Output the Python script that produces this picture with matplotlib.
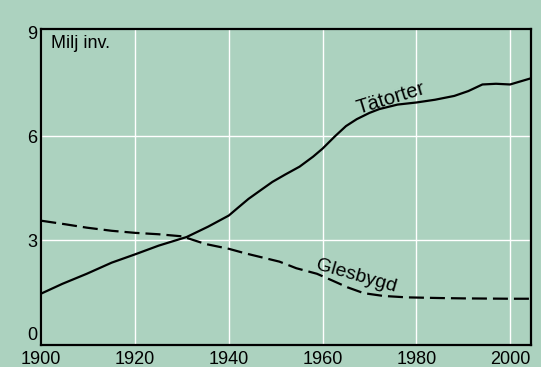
import matplotlib
matplotlib.use("Agg")
import matplotlib.pyplot as plt

plt.rcParams['font.family'] = ['Liberation Sans', 'DejaVu Sans']

# population, millions
tat_years = [1900, 1904.5, 1909.7, 1915, 1920, 1925, 1931, 1935.6, 1940, 1942,
             1944.2, 1947, 1949.3, 1952, 1955.1, 1958, 1960, 1962.6, 1965, 1967.3,
             1970, 1972.1, 1976, 1980, 1984, 1988.1, 1991.1, 1994.1, 1997, 2000,
             2004.5]
tat_vals = [1.47, 1.75, 2.04, 2.36, 2.6, 2.85, 3.1, 3.4, 3.72, 3.95,
            4.2, 4.47, 4.69, 4.9, 5.13, 5.42, 5.65, 6.0, 6.3, 6.5,
            6.68, 6.79, 6.92, 6.98, 7.06, 7.17, 7.31, 7.5, 7.52, 7.5,
            7.68]

gles_years = [1900, 1905, 1909.7, 1915, 1920, 1925, 1930, 1935, 1940, 1943.5,
              1950.8, 1954.4, 1958.8, 1962, 1965.3, 1968.8, 1973, 1977.9,
              1985, 1990, 2000, 2004.5]
gles_vals = [3.57, 3.47, 3.37, 3.28, 3.22, 3.18, 3.12, 2.9, 2.76, 2.63,
             2.39, 2.2, 2.04, 1.85, 1.65, 1.48, 1.4, 1.36,
             1.34, 1.33, 1.32, 1.32]

x_ticks = [1900, 1920, 1940, 1960, 1980, 2000]
y_ticks = [0, 3, 6, 9]
y_labels = ["0", "3", "6", "9"]

bg = "#acd2bf"

fig = plt.figure(figsize=(5.41, 3.67), dpi=100, facecolor=bg)
ax = fig.add_axes([41.3 / 541, (367 - 344.5) / 367, (530.7 - 41.3) / 541, (344.5 - 29) / 367])
ax.set_facecolor(bg)

ax.plot(tat_years, tat_vals, color="black", lw=1.6, solid_joinstyle="round")
ax.plot(gles_years, gles_vals, color="black", lw=1.6, dashes=(6.75, 2.7))

ax.set_xlim(1900, 2004.4)
ax.set_ylim(0, 9.1)
ax.set_xticks(x_ticks)
ax.set_yticks(y_ticks)
ax.set_yticklabels(y_labels)
ax.tick_params(axis="both", length=0, labelsize=13, colors="black")
ax.tick_params(axis="x", pad=5)
ax.tick_params(axis="y", pad=3)
ax.grid(True, color="white", lw=1.0)
ax.set_axisbelow(True)
ax.yaxis.get_major_ticks()[-1].gridline.set_visible(False)
ax.get_yticklabels()[0].set_va("bottom")

for s in ax.spines.values():
    s.set_linewidth(1.6)
    s.set_color("black")

ax.annotate("Milj inv.", xy=(0, 1), xycoords="axes fraction", xytext=(6.8, -4.5),
            textcoords="offset points", ha="left", va="top", fontsize=13)

ax.text(1974.6, 7.1, "Tätorter", rotation=17, ha="center", va="center",
        fontsize=14.5, rotation_mode="anchor")
ax.text(1967.1, 1.97, "Glesbygd", rotation=-16, ha="center", va="center",
        fontsize=14, rotation_mode="anchor")

fig.savefig("out.png", dpi=100, facecolor=bg)
